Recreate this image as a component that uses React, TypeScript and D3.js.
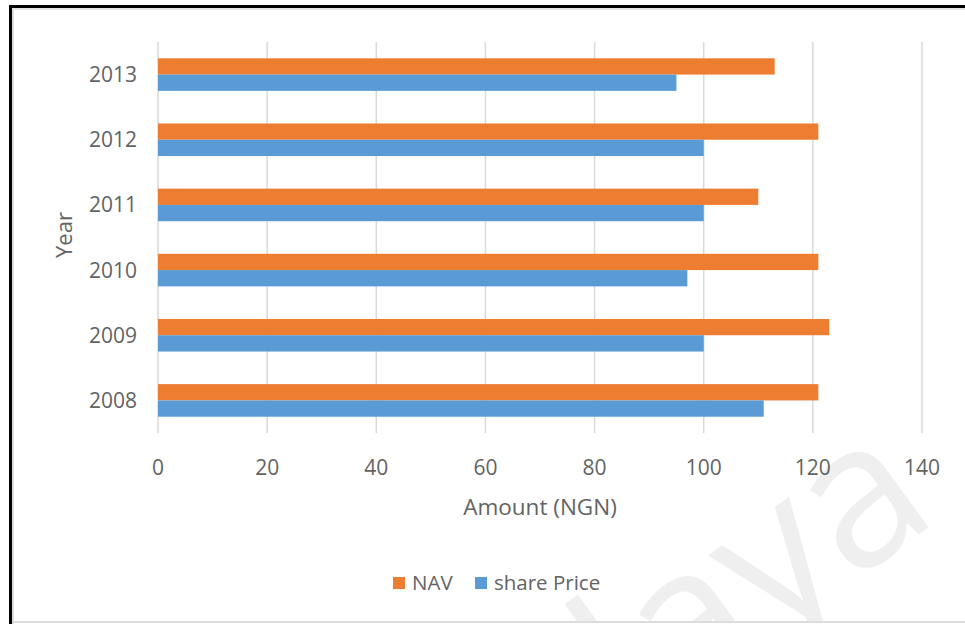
import React from "react";
import * as d3 from "d3";

const years = ["2008", "2009", "2010", "2011", "2012", "2013"];
const navValues = [121, 123, 121, 110, 121, 113];
const sharePriceValues = [111, 100, 97, 100, 100, 95];
const seriesNames = ["NAV", "share Price"];
const seriesColors = ["#ED7D31", "#5B9BD5"];
const xTicks = [0, 20, 40, 60, 80, 100, 120, 140];

const W = 965;
const H = 624;
const FONT = "'Open Sans', 'Noto Sans', sans-serif";
const TXT = "#636363";

export default function App() {
  const left = 158;
  const right = 922;
  const top = 42;
  const bottom = 433;

  const x = d3.scaleLinear().domain([0, 140]).range([left, right]);
  const y = d3
    .scaleBand<string>()
    .domain([...years].reverse())
    .range([top, bottom])
    .paddingInner(0.5)
    .paddingOuter(0.25);
  const inner = d3
    .scaleBand<string>()
    .domain(seriesNames)
    .range([0, y.bandwidth()]);

  const values: Record<string, number[]> = {
    NAV: navValues,
    "share Price": sharePriceValues,
  };

  return (
    <svg
      width={W}
      height={H}
      style={{ position: "absolute", left: 0, top: 0, background: "#fff" }}
      fontFamily={FONT}
    >
      <defs>
        <clipPath id="pageClip">
          <rect x={14} y={10} width={W - 14} height={611} />
        </clipPath>
      </defs>
      <rect x={0} y={0} width={W} height={H} fill="#fff" />
      {/* watermark */}
      <g clipPath="url(#pageClip)">
        <text
          x={942}
          y={518}
          textAnchor="end"
          fontSize={200}
          fill="#efefef"
          transform="rotate(-36 942 518)"
        >
          Malaya
        </text>
      </g>

      {/* frame */}
      <line x1={13} y1={10} x2={13} y2={H} stroke="#dcdcdc" strokeWidth={2} />
      <line x1={12} y1={622} x2={W} y2={622} stroke="#dcdcdc" strokeWidth={2} />
      <line x1={12} y1={9} x2={W} y2={9} stroke="#dcdcdc" strokeWidth={1.5} />
      <line x1={10} y1={6.5} x2={W} y2={6.5} stroke="#000" strokeWidth={3} />
      <line x1={10.5} y1={5} x2={10.5} y2={H} stroke="#000" strokeWidth={3} />

      {/* gridlines */}
      {xTicks.map((t) => (
        <line
          key={"g" + t}
          x1={x(t)}
          x2={x(t)}
          y1={top}
          y2={bottom}
          stroke="#d9d9d9"
          strokeWidth={1.5}
        />
      ))}

      {/* bars */}
      {years.map((yr, i) =>
        seriesNames.map((s, j) => (
          <rect
            key={yr + s}
            x={x(0)}
            y={(y(yr) as number) + (inner(s) as number)}
            width={x(values[s][i]) - x(0)}
            height={inner.bandwidth()}
            fill={seriesColors[j]}
          />
        ))
      )}

      {/* x tick labels */}
      {xTicks.map((t) => (
        <text
          key={"t" + t}
          x={x(t)}
          y={475}
          textAnchor="middle"
          fontSize={21}
          fill={TXT}
        >
          {t}
        </text>
      ))}

      {/* y tick labels */}
      {years.map((yr) => (
        <text
          key={"y" + yr}
          x={137}
          y={(y(yr) as number) + y.bandwidth() / 2 + 7.5}
          textAnchor="end"
          fontSize={21}
          fill={TXT}
        >
          {yr}
        </text>
      ))}

      {/* axis titles */}
      <text
        x={(left + right) / 2}
        y={515}
        textAnchor="middle"
        fontSize={22.5}
        fill={TXT}
      >
        Amount (NGN)
      </text>
      <text
        transform={`translate(72, ${235}) rotate(-90)`}
        textAnchor="middle"
        fontSize={22}
        fill={TXT}
      >
        Year
      </text>

      {/* legend */}
      {seriesNames.map((s, j) => {
        const lx = j === 0 ? 393 : 475;
        return (
          <g key={"l" + s}>
            <rect x={lx} y={577} width={12} height={12} fill={seriesColors[j]} />
            <text x={lx + 19} y={590} fontSize={20.5} fill={TXT}>
              {s}
            </text>
          </g>
        );
      })}
    </svg>
  );
}
